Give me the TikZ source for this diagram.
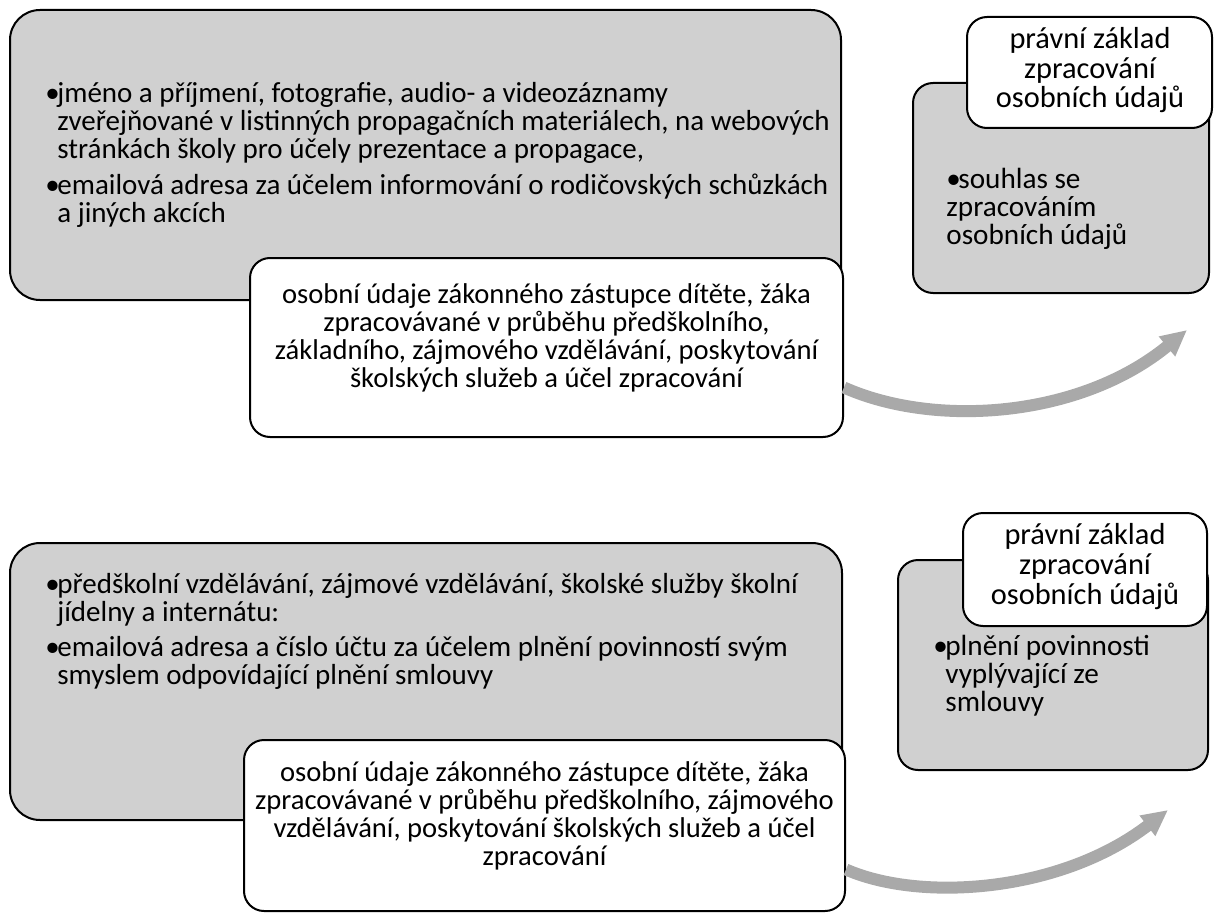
\documentclass[tikz,border=0pt]{standalone}
\usepackage{fontspec}
\setmainfont{Carlito}
\usetikzlibrary{fit,calc,arrows.meta}
\definecolor{boxgray}{HTML}{D0D0D0}
\definecolor{arrowgray}{HTML}{A9A9A9}
\newcommand{\bitem}{\makebox[6pt][l]{•}}
\newcommand{\bcont}{\hspace*{6pt}}
\newcommand{\tightlines}{\lineskiplimit=-20pt\relax}
\begin{document}
\begin{tikzpicture}[x=0.5pt,y=-0.5pt,
  graybox/.style={draw=black, fill=boxgray, line width=1pt, rounded corners=15pt, inner sep=0pt},
  smallgray/.style={draw=black, fill=boxgray, line width=1pt, rounded corners=10pt, inner sep=0pt},
  whitebox/.style={draw=black, fill=white, line width=1pt, rounded corners=10pt, inner sep=0pt, align=center, font={\fontsize{14.3}{14}\selectfont\tightlines}},
  labelbox/.style={draw=black, fill=white, line width=1pt, rounded corners=10pt, inner sep=0pt},
  labeltxt/.style={anchor=base, align=center, inner sep=0pt, font={\fontsize{15.2}{14.8}\selectfont\tightlines}},
  txt/.style={anchor=base west, align=left, inner sep=0pt, font={\fontsize{14.5}{14}\selectfont\tightlines}},
  rtxt/.style={anchor=base west, align=left, inner sep=0pt, font={\fontsize{14.6}{13.8}\selectfont\tightlines}},
  bigarrow/.style={draw=arrowgray, line width=6pt, -{Triangle[length=13pt,width=12pt]}}
]
\useasboundingbox (0,0) rectangle (1215,915);

% ---- top row ----
\node[graybox, fit={(10,10)(841,300)}] (g1) {};
\node[txt] (t1) at (45,222) {\bitem jméno a příjmení, fotografie, audio- a videozáznamy\\
\bcont zveřejňované v listinných propagačních materiálech, na webových\\
\bcont stránkách školy pro účely prezentace a propagace,\\[4pt]
\bitem emailová adresa za účelem informování o rodičovských schůzkách\\
\bcont a jiných akcích};
\node[whitebox, fit={(250,258)(843,437)}] (w1) {osobní údaje zákonného zástupce dítěte, žáka\\
zpracovávané v průběhu předškolního,\\
základního, zájmového vzdělávání, poskytování\\
školských služeb a účel zpracování};

\node[smallgray, fit={(913,83)(1209,293)}] (g2) {};
\node[labelbox, fit={(967,17)(1212,128)}] (l1) {};
\node[labeltxt] (l1t) at (1090,108) {právní základ\\ zpracování\\ osobních údajů};
\node[rtxt] (t2) at (946,244) {\bitem souhlas se\\ zpracováním\\ osobních údajů};

\coordinate (tip1) at (1187,330);
\draw[bigarrow] ($(w1.east)+(0,40)$) .. controls (935,428) and (1080,418) .. (tip1);

% ---- bottom row ----
\node[graybox, fit={(10,543)(842,820)}] (g3) {};
\node[txt] (t3) at (45,684) {\bitem předškolní vzdělávání, zájmové vzdělávání, školské služby školní\\
\bcont jídelny a internátu:\\[3.5pt]
\bitem emailová adresa a číslo účtu za účelem plnění povinností svým\\
\bcont smyslem odpovídající plnění smlouvy};
\node[whitebox, fit={(244,740)(845,911)}] (w2) {osobní údaje zákonného zástupce dítěte, žáka\\
zpracovávané v průběhu předškolního, zájmového\\
vzdělávání, poskytování školských služeb a účel\\
zpracování};

\node[smallgray, fit={(898,560)(1208,770)}] (g4) {};
\node[labelbox, fit={(963,513)(1207,626)}] (l2) {};
\node[labeltxt] (l2t) at (1085,604) {právní základ\\ zpracování\\ osobních údajů};
\node[rtxt] (t4) at (933,711) {\bitem plnění povinnosti\\ \bcont vyplývající ze\\ \bcont smlouvy};

\coordinate (tip2) at (1168,810);
\draw[bigarrow] ($(w2.east)+(0,44)$) .. controls (920,902) and (1060,893) .. (tip2);
\end{tikzpicture}
\end{document}
